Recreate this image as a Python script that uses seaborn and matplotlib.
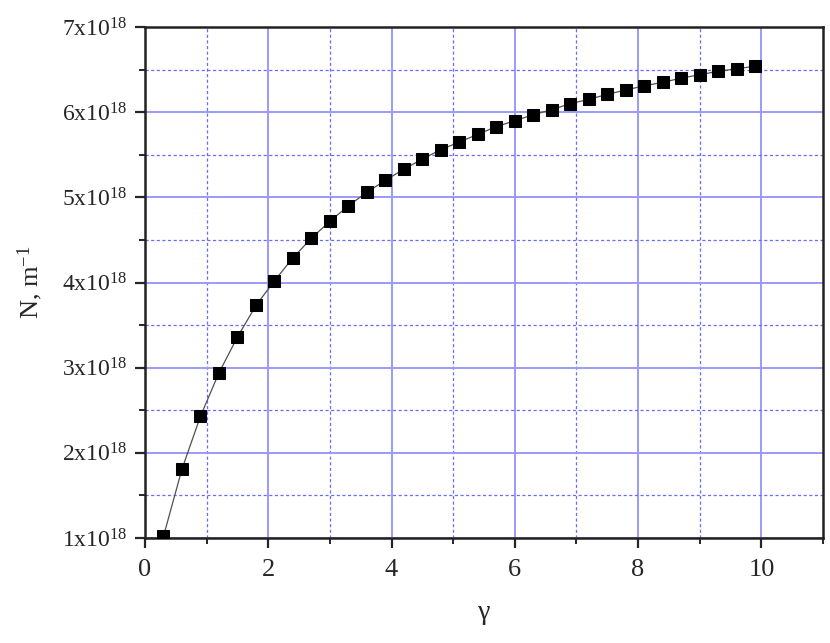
import numpy as np
import pandas as pd
import matplotlib
matplotlib.use('Agg')
import matplotlib.pyplot as plt
import seaborn as sns
from matplotlib.ticker import MultipleLocator, FixedLocator, FixedFormatter

# gamma values and N (in units of 1e18 m^-1)
gamma = [0.3, 0.6, 0.9, 1.2, 1.5, 1.8, 2.1, 2.4, 2.7, 3.0, 3.3,
         3.6, 3.9, 4.2, 4.5, 4.8, 5.1, 5.4, 5.7, 6.0, 6.3, 6.6,
         6.9, 7.2, 7.5, 7.8, 8.1, 8.4, 8.7, 9.0, 9.3, 9.6, 9.9]
n_e18 = [1.02, 1.81, 2.43, 2.94, 3.36, 3.73, 4.02, 4.29, 4.52, 4.72, 4.90,
         5.06, 5.20, 5.33, 5.45, 5.56, 5.65, 5.74, 5.83, 5.90, 5.97, 6.03,
         6.10, 6.15, 6.21, 6.26, 6.31, 6.35, 6.40, 6.44, 6.48, 6.51, 6.54]

y_ticks = [1, 2, 3, 4, 5, 6, 7]
y_ticklabels = [r'$\mathregular{%dx10^{18}}$' % v for v in y_ticks]
x_ticks = [0, 2, 4, 6, 8, 10]

df = pd.DataFrame({'gamma': gamma, 'N': np.array(n_e18) * 1e18})

sns.set_style('white')
plt.rcParams['font.family'] = ['Liberation Serif', 'DejaVu Serif']
plt.rcParams['mathtext.fontset'] = 'custom'
plt.rcParams['mathtext.rm'] = 'Liberation Serif'
plt.rcParams['mathtext.it'] = 'Liberation Serif:italic'

fig = plt.figure(figsize=(8.3, 6.43), dpi=100)
ax = fig.add_axes([0.1747, 0.1633, 0.8169, 0.7947])

sns.lineplot(data=df, x='gamma', y='N', ax=ax, color='#505050', lw=0.9,
             marker='s', markersize=8.5, markerfacecolor='black',
             markeredgecolor='black', zorder=3)

ax.set_xlim(0, 11)
ax.set_ylim(1e18, 7e18)
ax.xaxis.set_major_locator(FixedLocator(x_ticks))
ax.xaxis.set_minor_locator(MultipleLocator(1))
ax.yaxis.set_major_locator(FixedLocator([v * 1e18 for v in y_ticks]))
ax.yaxis.set_major_formatter(FixedFormatter(y_ticklabels))
ax.yaxis.set_minor_locator(MultipleLocator(0.5e18))

for s in ax.spines.values():
    s.set_linewidth(1.8)
    s.set_color('#222222')

ax.tick_params(which='major', direction='out', length=7, width=1.6,
               labelsize=17, left=True, bottom=True, pad=6)
ax.tick_params(axis='x', which='major', labelsize=19, pad=8)
ax.tick_params(which='minor', direction='out', length=4, width=1.4,
               left=True, bottom=True)

# solid major grid, fine dashed minor grid, both blue
ax.grid(which='major', color='#9a9aff', lw=1.4, ls='-', zorder=0)
ax.grid(which='minor', color='#6a6aff', lw=0.9, ls=(0, (2.5, 2)), zorder=0)

ax.set_xlabel('γ', fontsize=20, labelpad=14)
ax.set_ylabel(r'N, m$\mathregular{^{-1}}$', fontsize=19, labelpad=12)

fig.savefig('out.png', dpi=100)
